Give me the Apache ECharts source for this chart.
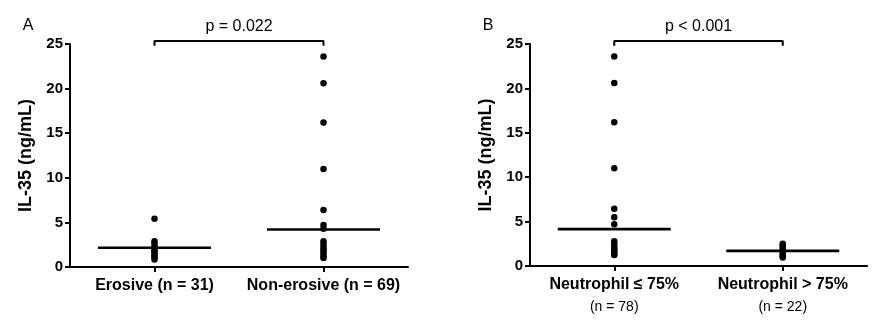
<!DOCTYPE html>
<html>
<head>
<meta charset="utf-8">
<script src="https://cdn.jsdelivr.net/npm/echarts@6/dist/echarts.min.js"></script>
<style>
html,body{margin:0;padding:0;background:#fff;}
#chart{width:886px;height:325px;}
</style>
</head>
<body>
<div id="chart"></div>
<script>
// ---- data ----
const categoriesA = ['Erosive (n = 31)', 'Non-erosive (n = 69)'];
const erosive = [5.4, 2.9, 2.6, 2.3, 2.1, 1.9, 1.7, 1.5, 1.3, 1.1, 0.85];
const nonErosive = [23.6, 20.6, 16.2, 11.0, 6.4, 4.7, 4.3, 2.9, 2.6, 2.3, 2.0, 1.8, 1.5, 1.2, 1.0];
const mediansA = [2.15, 4.2];

const categoriesB = ['Neutrophil ≤ 75%', 'Neutrophil > 75%'];
const countsB = ['(n = 78)', '(n = 22)'];
const neutLow = [23.6, 20.6, 16.2, 11.0, 6.45, 5.5, 4.7, 2.8, 2.5, 2.2, 2.0, 1.8, 1.6, 1.4, 1.25];
const neutHigh = [2.5, 2.3, 2.1, 1.9, 1.7, 1.5, 1.3, 1.1, 0.95];
const mediansB = [4.15, 1.7];

const yMin = 0, yMax = 25, yStep = 5;
const yName = 'IL-35 (ng/mL)';
const panelLetters = ['A', 'B'];
const pTexts = ['p = 0.022', 'p < 0.001'];
const bracketLow = 24.8, bracketHigh = 25.35, pLevel = 27.0;

// ---- chart ----
const FONT = 'Liberation Sans, Arial, sans-serif';
const chart = echarts.init(document.getElementById('chart'), null, {renderer: 'canvas'});

function yAxis(gridIndex) {
  return {
    type: 'value', gridIndex, min: yMin, max: yMax, interval: yStep,
    name: yName, nameLocation: 'middle', nameGap: 35, nameRotate: 90,
    nameTextStyle: {fontFamily: FONT, fontWeight: 'bold', fontSize: 18, color: '#000'},
    axisLine: {show: true, lineStyle: {color: '#000', width: 2}},
    axisTick: {show: true, length: 5, lineStyle: {color: '#000', width: 2}},
    axisLabel: {fontFamily: FONT, fontWeight: 'bold', fontSize: 15, color: '#000', margin: 7},
    splitLine: {show: false}
  };
}
function xAxis(gridIndex, data, label) {
  return {
    type: 'category', gridIndex, data, boundaryGap: true,
    axisLine: {show: true, lineStyle: {color: '#000', width: 2}},
    axisTick: {show: true, alignWithLabel: true, length: 5, lineStyle: {color: '#000', width: 2}},
    axisLabel: label,
    splitLine: {show: false}
  };
}
function dots(idx, cat, values) {
  return {
    type: 'scatter', xAxisIndex: idx, yAxisIndex: idx, symbol: 'circle', symbolSize: 6.5,
    itemStyle: {color: '#000', opacity: 1}, silent: true, z: 3,
    data: values.map(v => [cat, v])
  };
}
function medians(idx, values) {
  return {
    type: 'scatter', xAxisIndex: idx, yAxisIndex: idx, symbol: 'rect', symbolSize: [113, 2.6],
    itemStyle: {color: '#000', opacity: 1}, silent: true, z: 2,
    data: values.map((v, i) => [i, v])
  };
}
function bracket(idx) {
  return {
    type: 'line', xAxisIndex: idx, yAxisIndex: idx, clip: false, symbol: 'none', silent: true,
    lineStyle: {color: '#000', width: 2},
    data: [[0, bracketLow], [0, bracketHigh], [1, bracketHigh], [1, bracketLow]]
  };
}

chart.setOption({
  animation: false,
  backgroundColor: '#fff',
  grid: [
    {left: 70, right: 478, top: 44, bottom: 58},
    {left: 530, right: 19, top: 44, bottom: 59}
  ],
  xAxis: [
    xAxis(0, categoriesA, {interval: 0, fontFamily: FONT, fontWeight: 'bold', fontSize: 16, color: '#000', margin: 11}),
    xAxis(1, categoriesB, {
      interval: 0, margin: 8, color: '#000',
      formatter: (v, i) => '{b|' + v + '}\n{n|' + countsB[i] + '}',
      rich: {
        b: {fontFamily: FONT, fontWeight: 'bold', fontSize: 16, color: '#000', lineHeight: 22},
        n: {fontFamily: FONT, fontSize: 14, color: '#000', lineHeight: 22}
      }
    })
  ],
  yAxis: [yAxis(0), yAxis(1)],
  series: [
    dots(0, 0, erosive), dots(0, 1, nonErosive), medians(0, mediansA), bracket(0),
    dots(1, 0, neutLow), dots(1, 1, neutHigh), medians(1, mediansB), bracket(1)
  ]
});

// panel letters and p-value texts, placed through the axes' scales
const graphics = [];
[0, 1].forEach(g => {
  const p0 = chart.convertToPixel({gridIndex: g}, [0, pLevel]);
  const p1 = chart.convertToPixel({gridIndex: g}, [1, pLevel]);
  graphics.push({
    type: 'text', x: (p0[0] + p1[0]) / 2, y: p0[1],
    style: {text: pTexts[g], fontFamily: FONT, fontSize: 16, fill: '#000', align: 'center', verticalAlign: 'middle'}
  });
  const axisX = g === 0 ? 70 : 530;
  graphics.push({
    type: 'text', x: axisX - 42, y: p0[1] - 1,
    style: {text: panelLetters[g], fontFamily: FONT, fontSize: 16, fill: '#000', align: 'center', verticalAlign: 'middle'}
  });
});
chart.setOption({graphic: graphics});
</script>
</body>
</html>
